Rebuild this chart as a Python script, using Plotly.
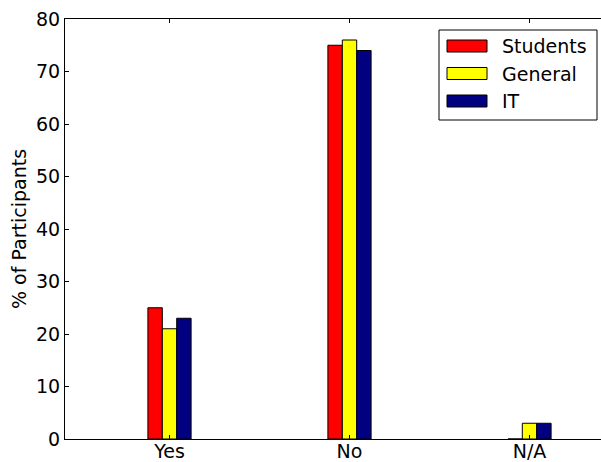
import plotly.graph_objects as go

# Survey answers, percentage of participants per group
categories = ["Yes", "No", "N/A"]
series_names = ["Students", "General", "IT"]
students = [25, 75, 0]
general = [21, 76, 3]
it = [23, 74, 3]
y_ticks = [0, 10, 20, 30, 40, 50, 60, 70, 80]

colors = ["#ff0000", "#ffff00", "#000080"]
values = [students, general, it]

W, H = 601, 462
M_L, M_R, M_T, M_B = 65, 0, 19, 23
BAR_W = 0.08
offsets = [-BAR_W, 0.0, BAR_W]

fig = go.Figure()
for name, vals, col, off in zip(series_names, values, colors, offsets):
    fig.add_trace(go.Bar(
        x=[i + off for i in range(len(categories))],
        y=vals,
        width=BAR_W,
        name=name,
        marker=dict(color=col, line=dict(color="black", width=1)),
        showlegend=False,
    ))

plot_w = W - M_L - M_R
plot_h = H - M_T - M_B
unit_px = 180.0
x_left = -(169.5 - M_L) / unit_px
x_right = x_left + plot_w / unit_px


def px_x(p):
    return (p - M_L) / plot_w


def px_y(p):
    return (H - M_B - p) / plot_h


font = dict(family="DejaVu Sans", size=19, color="black")

# Framed legend drawn with shapes and text
shapes = [dict(type="rect", xref="paper", yref="paper",
               x0=px_x(439), x1=px_x(597), y0=px_y(120), y1=px_y(30),
               line=dict(color="black", width=1), fillcolor="white", layer="above")]
annotations = []
row_centers = [46, 73.5, 101]
for name, col, cy in zip(series_names, colors, row_centers):
    shapes.append(dict(type="rect", xref="paper", yref="paper",
                       x0=px_x(447), x1=px_x(487), y0=px_y(cy + 6), y1=px_y(cy - 6),
                       line=dict(color="black", width=1), fillcolor=col, layer="above"))
    annotations.append(dict(xref="paper", yref="paper", x=px_x(500), y=px_y(cy),
                            text=name, showarrow=False, xanchor="left", yanchor="middle",
                            font=font))

fig.update_layout(
    width=W, height=H,
    margin=dict(l=M_L, r=M_R, t=M_T, b=M_B, autoexpand=False),
    paper_bgcolor="white", plot_bgcolor="white",
    barmode="overlay",
    font=font,
    shapes=shapes,
    annotations=annotations,
    xaxis=dict(
        range=[x_left, x_right], automargin=False,
        tickmode="array", tickvals=list(range(len(categories))), ticktext=categories,
        ticks="inside", ticklen=4, tickcolor="black", ticklabelstandoff=-5,
        showline=True, linecolor="black", linewidth=1, mirror="ticks",
        showgrid=False, zeroline=False, tickfont=font,
    ),
    yaxis=dict(
        range=[0, 80], automargin=False,
        tickmode="array", tickvals=y_ticks,
        ticks="inside", ticklen=4, tickcolor="black",
        showline=True, linecolor="black", linewidth=1, mirror=False,
        showgrid=False, zeroline=False, tickfont=font,
        title=dict(text="% of Participants", font=font, standoff=4),
    ),
)

fig.write_html("out.html")
